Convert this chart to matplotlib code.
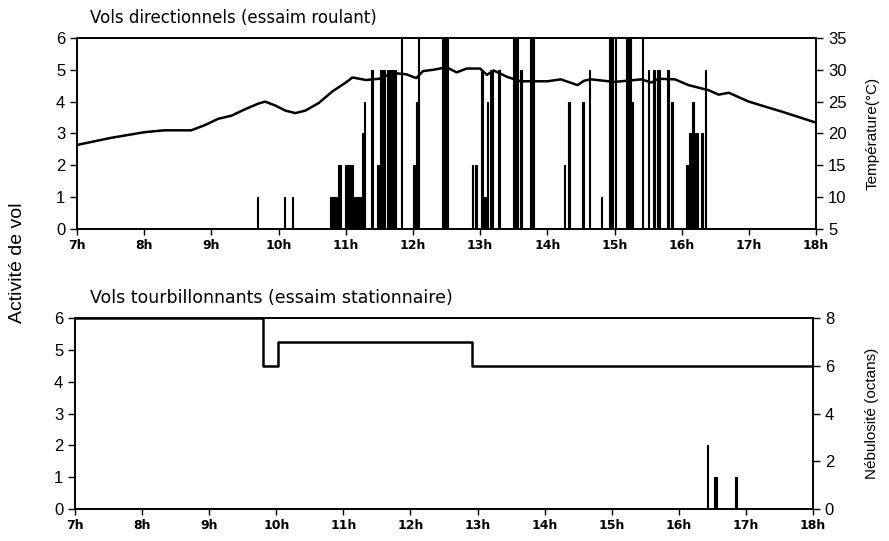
import matplotlib.pyplot as plt
import numpy as np

plt.rcParams['font.family'] = ['Liberation Sans', 'DejaVu Sans']

# hours of the day (decimal)
hours = [7, 8, 9, 10, 11, 12, 13, 14, 15, 16, 17, 18]
hour_labels = ['7h', '8h', '9h', '10h', '11h', '12h', '13h', '14h', '15h', '16h', '17h', '18h']

# top panel: directional flights (bar centre, width in h, activity)
dir_time = [9.69, 10.09, 10.21, 10.82, 10.91, 11.05, 11.18, 11.25, 11.28, 11.39,
            11.48, 11.52, 11.57, 11.63, 11.69, 11.74, 11.83, 12.01, 12.06, 12.08,
            12.47, 12.89, 12.94, 13.03, 13.07, 13.11, 13.17, 13.28, 13.53, 13.61,
            13.77, 14.26, 14.32, 14.53, 14.63, 14.81, 14.95, 15.01, 15.21, 15.27,
            15.42, 15.51, 15.59, 15.65, 15.80, 15.85, 16.08, 16.13, 16.17, 16.22,
            16.30, 16.35]
dir_width = [0.02, 0.02, 0.02, 0.10, 0.05, 0.12, 0.12, 0.02, 0.02, 0.03,
             0.02, 0.03, 0.03, 0.03, 0.05, 0.02, 0.02, 0.03, 0.04, 0.02,
             0.09, 0.02, 0.02, 0.03, 0.02, 0.02, 0.04, 0.02, 0.08, 0.02,
             0.06, 0.02, 0.02, 0.03, 0.02, 0.02, 0.05, 0.02, 0.07, 0.02,
             0.02, 0.02, 0.03, 0.04, 0.03, 0.03, 0.02, 0.04, 0.02, 0.03,
             0.03, 0.02]
dir_act = [1, 1, 1, 1, 2, 2, 1, 3, 4, 5,
           2, 5, 5, 5, 5, 5, 6, 2, 4, 6,
           6, 2, 2, 5, 1, 4, 5, 5, 6, 5,
           6, 2, 4, 4, 5, 1, 6, 6, 6, 4,
           6, 5, 5, 5, 5, 4, 2, 3, 4, 3,
           3, 5]

# temperature (°C)
temp_time = [7.0, 7.5, 8.0, 8.3, 8.7, 8.9, 9.1, 9.3, 9.5, 9.7, 9.8, 9.95, 10.1,
             10.25, 10.4, 10.6, 10.8, 11.0, 11.1, 11.3, 11.5, 11.7, 11.9, 12.05,
             12.15, 12.3, 12.5, 12.65, 12.8, 13.0, 13.1, 13.2, 13.4, 13.6, 14.0,
             14.2, 14.45, 14.55, 14.65, 15.0, 15.4, 15.55, 15.65, 15.9, 16.1,
             16.4, 16.55, 16.7, 17.0, 17.5, 18.0]
temp_c = [18.2, 19.3, 20.2, 20.5, 20.5, 21.3, 22.3, 22.8, 23.8, 24.7, 25.0, 24.4, 23.6,
          23.2, 23.6, 24.8, 26.6, 28.0, 28.8, 28.4, 28.6, 29.5, 29.3, 28.7,
          29.8, 30.0, 30.4, 29.6, 30.2, 30.2, 29.2, 29.9, 28.9, 28.2, 28.2,
          28.5, 27.6, 28.3, 28.5, 28.1, 28.5, 28.0, 28.6, 28.5, 27.6,
          26.8, 26.1, 26.4, 25.0, 23.4, 21.7]

# bottom panel: whirling flights
whirl_time = [16.43, 16.55, 16.85]
whirl_width = [0.02, 0.04, 0.02]
whirl_act = [2, 1, 1]

# cloud cover (octans), step changes
cloud_time = [7.0, 9.8, 10.03, 12.91, 18.0]
cloud_oct = [8, 6, 7, 6, 6]

fig = plt.figure(figsize=(8.89, 5.41), dpi=100)

ax1 = fig.add_axes([0.0866, 0.5767, 0.8314, 0.3531])
ax1.bar(dir_time, dir_act, width=dir_width, color='black', edgecolor='black', linewidth=0.8)
ax1.set_xlim(7, 18)
ax1.set_ylim(0, 6)
ax1.set_yticks(range(7))
ax1.set_xticks(hours)
ax1.set_xticklabels(hour_labels, fontsize=9, fontweight='bold', family='DejaVu Sans')
ax1.tick_params(axis='y', labelsize=12, length=5, width=1)
ax1.tick_params(axis='x', length=4, width=1)
ax1.text(0.018, 1.06, 'Vols directionnels (essaim roulant)', transform=ax1.transAxes,
         fontsize=12, family='DejaVu Sans', ha='left', va='bottom')

ax1r = ax1.twinx()
ax1r.plot(temp_time, temp_c, color='black', lw=1.8)
ax1r.set_ylim(5, 35)
ax1r.set_yticks(range(5, 36, 5))
ax1r.tick_params(axis='y', labelsize=12, length=5, width=1)
ax1r.set_ylabel('Température(°C)', fontsize=11, labelpad=14)

ax2 = fig.add_axes([0.0844, 0.0591, 0.8301, 0.3531])
ax2.bar(whirl_time, whirl_act, width=whirl_width, color='black', edgecolor='black', linewidth=0.8)
ax2.set_xlim(7, 18)
ax2.set_ylim(0, 6)
ax2.set_yticks(range(7))
ax2.set_xticks(hours)
ax2.set_xticklabels(hour_labels, fontsize=9, fontweight='bold', family='DejaVu Sans')
ax2.tick_params(axis='y', labelsize=12, length=5, width=1)
ax2.tick_params(axis='x', length=4, width=1)
ax2.text(0.02, 1.06, 'Vols tourbillonnants (essaim stationnaire)', transform=ax2.transAxes,
         fontsize=12.5, family='DejaVu Sans', ha='left', va='bottom')

ax2r = ax2.twinx()
ax2r.step(cloud_time, cloud_oct, where='post', color='black', lw=1.8)
ax2r.set_ylim(0, 8)
ax2r.set_yticks(range(0, 9, 2))
ax2r.tick_params(axis='y', labelsize=12, length=5, width=1)
ax2r.set_ylabel('Nébulosité (octans)', fontsize=11, labelpad=22)

for a in (ax1, ax1r, ax2, ax2r):
    for s in a.spines.values():
        s.set_linewidth(1.2)

fig.text(0.02, 0.515, 'Activité de vol', rotation=90, fontsize=14, ha='center', va='center')

plt.savefig('out.png', dpi=100)
